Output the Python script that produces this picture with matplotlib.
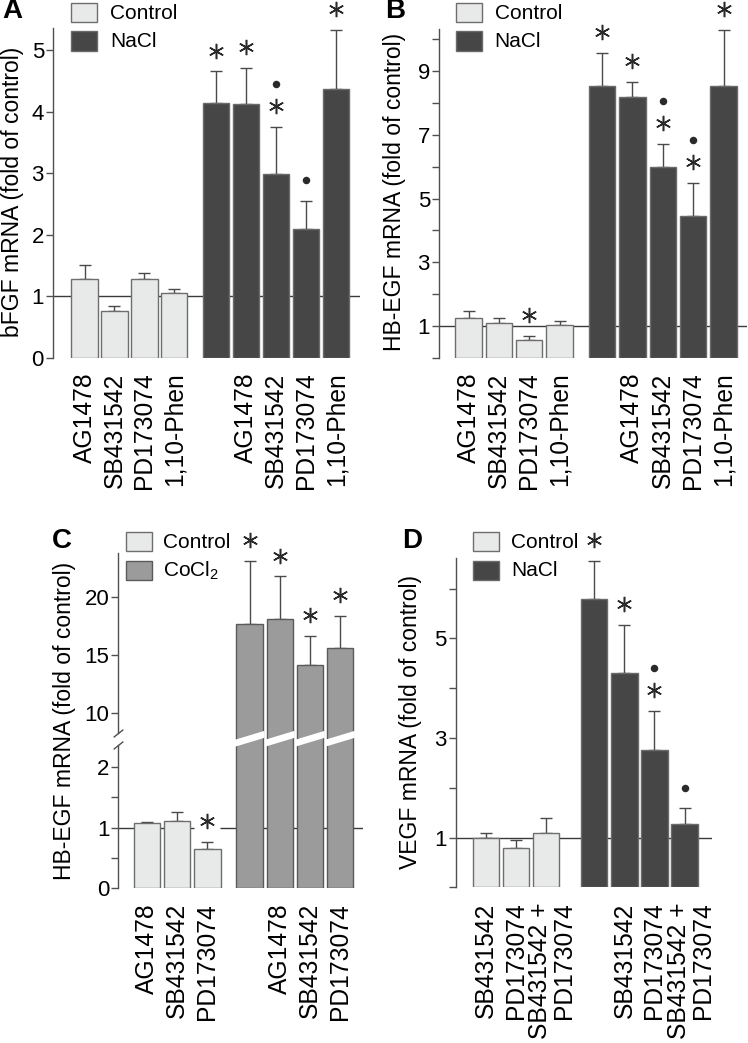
import numpy as np
import matplotlib
matplotlib.use('Agg')
import matplotlib.pyplot as plt
from matplotlib.patches import Rectangle, Polygon
from matplotlib.transforms import ScaledTranslation, blended_transform_factory

plt.rcParams['font.family'] = ['Liberation Sans', 'DejaVu Sans']
plt.rcParams['mathtext.fontset'] = 'custom'
plt.rcParams['mathtext.rm'] = 'Liberation Sans'
plt.rcParams['mathtext.default'] = 'regular'

# ---------------- data ----------------
A_labels = ['AG1478', 'SB431542', 'PD173074', '1,10-Phen']
A_ctrl = [1.29, 0.77, 1.29, 1.05]
A_ctrl_err = [0.22, 0.07, 0.09, 0.07]
A_ctrl_marks = ['', '', '', '']
A_nacl = [4.14, 4.13, 2.99, 2.10, 4.38]
A_nacl_err = [0.52, 0.58, 0.77, 0.46, 0.95]
A_nacl_labels = ['', 'AG1478', 'SB431542', 'PD173074', '1,10-Phen']
A_nacl_marks = ['*', '*', '.*', '.', '*']

B_ctrl = [1.24, 1.11, 0.58, 1.05]
B_ctrl_err = [0.22, 0.14, 0.11, 0.11]
B_ctrl_marks = ['', '', '*', '']
B_nacl = [8.52, 8.18, 5.98, 4.44, 8.52]
B_nacl_err = [1.04, 0.48, 0.74, 1.04, 1.77]
B_nacl_marks = ['*', '*', '.*', '.*', '*']

C_labels = ['AG1478', 'SB431542', 'PD173074']
C_ctrl = [1.07, 1.11, 0.64]
C_ctrl_err = [0.03, 0.15, 0.12]
C_ctrl_marks = ['', '', '*']
C_cocl = [17.67, 18.16, 14.14, 15.60]
C_cocl_err = [5.49, 3.64, 2.56, 2.82]
C_cocl_labels = ['', 'AG1478', 'SB431542', 'PD173074']
C_cocl_marks = ['*', '*', '*', '*']

D_labels = ['SB431542', 'PD173074', 'SB431542 +\nPD173074']
D_ctrl = [1.00, 0.78, 1.09]
D_ctrl_err = [0.09, 0.17, 0.30]
D_ctrl_marks = ['', '', '']
D_nacl = [5.80, 4.31, 2.76, 1.27]
D_nacl_err = [0.76, 0.96, 0.79, 0.32]
D_nacl_labels = ['', 'SB431542', 'PD173074', 'SB431542 +\nPD173074']
D_nacl_marks = ['*', '*', '.*', '.']

# ---------------- style ----------------
W, H = 748, 1043
CTRL_FACE, CTRL_EDGE = '#e8e9e9', '#6e6e6e'
NACL_FACE, NACL_EDGE = '#464646', '#6a6a6a'
COCL_FACE, COCL_EDGE = '#9b9b9b', '#5a5a5a'
ERR = '#4a4a4a'
AXC = '#505050'
MARK = '#2a2a2a'
BW = 0.87
XFS = 17.7
YTFS = 16
YLFS = 16.5

fig = plt.figure(figsize=(W / 100, H / 100), dpi=100)


def px_axes(l, t, r, b):
    return fig.add_axes([l / W, 1 - b / H, (r - l) / W, (b - t) / H])


def style_axes(ax):
    for s in ['top', 'right', 'bottom']:
        ax.spines[s].set_visible(False)
    ax.spines['left'].set_color(AXC)
    ax.spines['left'].set_linewidth(1.0)
    ax.tick_params(axis='y', length=4.7, width=1.0, pad=1.8, direction='out',
                   color=AXC, labelsize=YTFS)
    ax.tick_params(axis='x', length=0, labelbottom=False)
    ax.patch.set_alpha(0)


def mark(ax, x, y, dy, kind, mask=0):
    tr = ax.transData + ScaledTranslation(0, dy / 72, fig.dpi_scale_trans)
    if kind == '*':
        if mask:
            ax.plot([x], [y], marker='s', ms=mask, color='white', mec='none',
                    transform=tr, clip_on=False, zorder=1.2)
        ax.plot([x], [y], marker=(6, 2, 0), ms=11, mew=1.1, color=MARK,
                transform=tr, clip_on=False, zorder=5)
    else:
        ax.plot([x], [y], marker='o', ms=5.4, color=MARK, mec='none',
                transform=tr, clip_on=False, zorder=5)


def group(ax, xs, vals, errs, marks, face, edge, mask=0):
    vals = np.asarray(vals)
    errs = np.asarray(errs)
    ax.bar(xs, vals, width=BW, color=face, edgecolor=edge, linewidth=1.0, zorder=2)
    ax.errorbar(xs, vals, yerr=[np.zeros_like(errs), errs], fmt='none', ecolor=ERR,
                elinewidth=1.0, capsize=4, capthick=1.0, zorder=1.8)
    for x, v, e, m in zip(xs, vals, errs, marks):
        top = v + e
        if m == '*':
            mark(ax, x, top, 15, '*', mask)
        elif m == '.':
            mark(ax, x, top, 14.5, '.')
        elif m == '.*':
            mark(ax, x, top, 15, '*', mask)
            mark(ax, x, top, 31, '.')


def xlabels(ax, xs, labels, pad=10.5):
    tr = blended_transform_factory(ax.transData, ax.transAxes) + \
        ScaledTranslation(0, -pad / 72, fig.dpi_scale_trans)
    for x, lab in zip(xs, labels):
        ax.text(x, 0, lab, transform=tr, rotation=90, ha='center', va='top',
                multialignment='right', linespacing=1.0, fontsize=XFS)


def legend(l, t, names, faces, edges, tx):
    for i, (n, f, e) in enumerate(zip(names, faces, edges)):
        y0 = t + i * 28.5
        fig.add_artist(Rectangle((l / W, 1 - (y0 + 19) / H), 26 / W, 19 / H,
                                 transform=fig.transFigure, facecolor=f,
                                 edgecolor=e, linewidth=1.0))
        fig.text(tx / W, 1 - (y0 + 10.5) / H, n, ha='left', va='center', fontsize=15)


def ylabel(x, y, text):
    fig.text(x / W, 1 - y / H, text, rotation=90, ha='center', va='center', fontsize=YLFS)


def plabel(x, y, text):
    fig.text(x / W, 1 - y / H, text, ha='center', va='center', fontsize=20,
             fontweight='bold')


# ---------------- Panel A ----------------
ax = px_axes(53, 28.3, 360, 358)
style_axes(ax)
xc = np.arange(len(A_ctrl))
xn = np.arange(len(A_nacl)) + len(A_ctrl) + 0.4
ax.axhline(1, color='#3a3a3a', lw=1.0, zorder=0.8)
group(ax, xc, A_ctrl, A_ctrl_err, A_ctrl_marks, CTRL_FACE, CTRL_EDGE)
group(ax, xn, A_nacl, A_nacl_err, A_nacl_marks, NACL_FACE, NACL_EDGE)
ax.set_xlim((53 - 84.5) / 29.98, (360 - 84.5) / 29.98)
ax.set_ylim(0, 5.36)
ax.set_yticks(range(6))
xlabels(ax, np.concatenate([xc, xn[1:]]), A_labels + A_nacl_labels[1:])
ylabel(13, 192, 'bFGF mRNA (fold of control)')
plabel(12, 11, 'A')
legend(71, 3, ['Control', 'NaCl'], [CTRL_FACE, NACL_FACE], [CTRL_EDGE, NACL_EDGE], 110)

# ---------------- Panel B ----------------
ax = px_axes(439, 29.3, 747, 358)
style_axes(ax)
xc = np.arange(len(B_ctrl))
xn = np.arange(len(B_nacl)) + len(B_ctrl) + 0.4
ax.axhline(1, color='#3a3a3a', lw=1.0, zorder=0.8)
group(ax, xc, B_ctrl, B_ctrl_err, B_ctrl_marks, CTRL_FACE, CTRL_EDGE, mask=13)
group(ax, xn, B_nacl, B_nacl_err, B_nacl_marks, NACL_FACE, NACL_EDGE)
ax.set_xlim((439 - 468.5) / 30.36, (747 - 468.5) / 30.36)
ax.set_ylim(0, 10.31)
ax.set_yticks(range(11), [str(i) if i % 2 else '' for i in range(11)])
xlabels(ax, np.concatenate([xc, xn[1:]]), A_labels + A_nacl_labels[1:])
ylabel(394, 192, 'HB-EGF mRNA (fold of control)')
plabel(395, 11, 'B')
legend(456, 3, ['Control', 'NaCl'], [CTRL_FACE, NACL_FACE], [CTRL_EDGE, NACL_EDGE], 494.7)

# ---------------- Panel C (broken axis) ----------------
LOW_TOP, UP_BOT = 2.37, 8.28
PX_LOW, PX_GAP, PX_UP = 60.2, 12.0, 11.6
_xp = np.array([-1000.0, 0.0, LOW_TOP, UP_BOT, 1000.0])
_fp = np.array([-1000.0 * PX_LOW, 0.0, LOW_TOP * PX_LOW, LOW_TOP * PX_LOW + PX_GAP,
                LOW_TOP * PX_LOW + PX_GAP + (1000.0 - UP_BOT) * PX_UP])


def c_fwd(v):
    return np.interp(v, _xp, _fp)


def c_inv(p):
    return np.interp(p, _fp, _xp)


ax = px_axes(118.3, 553.3, 363, 887.7)
style_axes(ax)
ax.set_yscale('function', functions=(c_fwd, c_inv))
ax.spines['left'].set_visible(False)
xc = np.arange(len(C_ctrl))
xn = np.arange(len(C_cocl)) + len(C_ctrl) + 0.4
ax.axhline(1, color='#3a3a3a', lw=1.0, zorder=0.8)
group(ax, xc, C_ctrl, C_ctrl_err, C_ctrl_marks, CTRL_FACE, CTRL_EDGE, mask=19)
group(ax, xn, C_cocl, C_cocl_err, C_cocl_marks, COCL_FACE, COCL_EDGE)
ax.set_xlim((118.3 - 147.3) / 30.08, (363 - 147.3) / 30.08)
ax.set_ylim(0, 23.8)
ax.set_yticks([0, 0.5, 1, 1.5, 2, 10, 15, 20], ['0', '', '1', '', '2', '10', '15', '20'])
ax.yaxis.set_minor_locator(matplotlib.ticker.NullLocator())
bt = blended_transform_factory(ax.transAxes, ax.transData)
ax.plot([0, 0], [0, LOW_TOP], color=AXC, lw=1.0, transform=bt, clip_on=False)
ax.plot([0, 0], [UP_BOT, 23.8], color=AXC, lw=1.0, transform=bt, clip_on=False)
for yb in (LOW_TOP, UP_BOT):
    ax.plot([0], [yb], marker=[(-1, -0.8), (1, 0.8)], ms=7, mew=1.0, color=AXC,
            transform=bt, clip_on=False)
for x in xn:
    xl, xr = x - BW / 2 - 0.06, x + BW / 2 + 0.06
    poly = Polygon([(xl, c_inv(141.0)), (xr, c_inv(150.0)),
                    (xr, c_inv(157.0)), (xl, c_inv(148.0))],
                   closed=True, facecolor='white', edgecolor='none', zorder=3)
    ax.add_patch(poly)
xlabels(ax, np.concatenate([xc, xn[1:]]), C_labels + C_cocl_labels[1:], pad=11)
ylabel(65, 720.5, 'HB-EGF mRNA (fold of control)')
plabel(62, 541, 'C')
legend(126, 532, ['Control', 'CoCl$_2$'], [CTRL_FACE, COCL_FACE], [CTRL_EDGE, COCL_EDGE], 163)

# ---------------- Panel D ----------------
ax = px_axes(455.7, 558.3, 712, 887.3)
style_axes(ax)
xc = np.arange(len(D_ctrl))
xn = np.arange(len(D_nacl)) + len(D_ctrl) + 0.6
ax.axhline(1, color='#3a3a3a', lw=1.0, zorder=0.8)
group(ax, xc, D_ctrl, D_ctrl_err, D_ctrl_marks, CTRL_FACE, CTRL_EDGE)
group(ax, xn, D_nacl, D_nacl_err, D_nacl_marks, NACL_FACE, NACL_EDGE)
ax.set_xlim((455.7 - 486.2) / 30.05, (712 - 486.2) / 30.05)
ax.set_ylim(0, 6.61)
ax.set_yticks(range(7), ['', '1', '', '3', '', '5', ''])
lx = np.concatenate([xc, xn[1:]]).astype(float)
lx[2] += 0.2
lx[5] += 0.2
xlabels(ax, lx, D_labels + D_nacl_labels[1:], pad=11)
ylabel(410.7, 722, 'VEGF mRNA (fold of control)')
plabel(412, 541, 'D')
legend(472.7, 532, ['Control', 'NaCl'], [CTRL_FACE, NACL_FACE], [CTRL_EDGE, NACL_EDGE], 511)

fig.savefig('out.png', dpi=100)
